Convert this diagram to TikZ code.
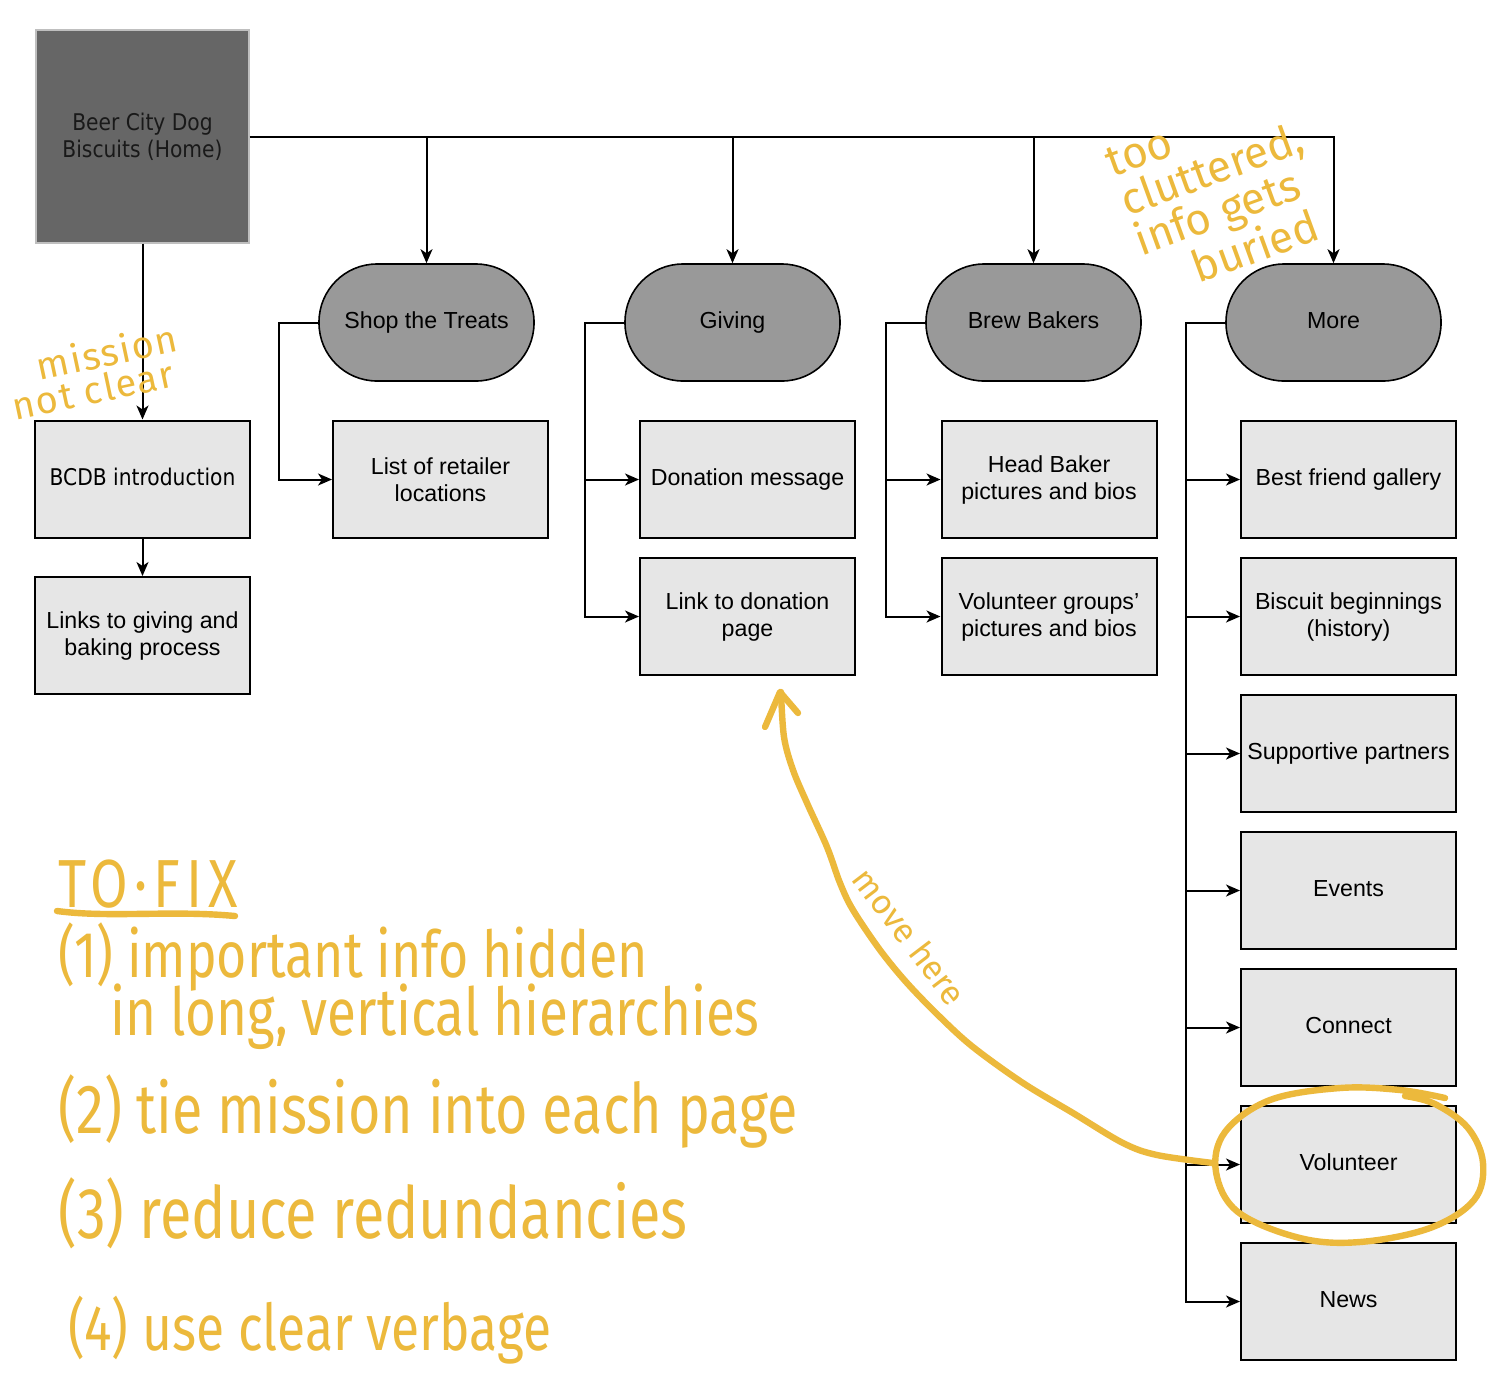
\documentclass[tikz,border=0pt]{standalone}
\usepackage{fontspec}
\setmainfont{Liberation Sans}
\newfontfamily\homefont[FakeStretch=0.88]{DejaVu Sans}
\newfontfamily\hand[FakeStretch=0.8]{Fira Sans}
\newfontfamily\handw{Fira Sans}
\usetikzlibrary{arrows.meta}
\definecolor{hy}{RGB}{236,185,60}
\definecolor{boxfill}{RGB}{230,230,230}
\definecolor{pillfill}{RGB}{153,153,153}
\definecolor{homefill}{RGB}{102,102,102}
\begin{document}
\begin{tikzpicture}[x=0.5pt,y=-0.5pt,
  box/.style={draw=black, line width=1pt, fill=boxfill, minimum width=107.5pt, minimum height=58.5pt, inner sep=0pt, align=center, font=\fontsize{11.6}{13.5}\selectfont},
  oneline/.style={text height=8.6pt, text depth=2.6pt},
  pill/.style={draw=black, line width=0.8pt, fill=pillfill, rounded corners=29pt, minimum width=107.5pt, minimum height=58.5pt, inner sep=0pt, font=\fontsize{11.6}{13.5}\selectfont, oneline},
  conn/.style={line width=1pt, -{Stealth[length=7pt,width=6pt,inset=2pt]}},
  note/.style={text=hy, inner sep=0pt},
  pen/.style={draw=hy, line width=3.2pt, line cap=round, line join=round}]
\fill[white] (0,0) rectangle (1493,1399);
\useasboundingbox (0,0) rectangle (1493,1399);

% nodes
\node[draw=gray!50, line width=0.6pt, fill=homefill, minimum width=106.5pt, minimum height=106.5pt, inner sep=0pt, align=center, text=black!90, font=\homefont\fontsize{11.5}{13.5}\selectfont] (home) at (142.5,136.5) {Beer City Dog\\Biscuits (Home)};
\node[box, oneline, font=\homefont\fontsize{11.5}{13.5}\selectfont] (intro) at (142.5,479) {BCDB introduction};
\node[box] (links) at (142.5,635.5) {Links to giving and\\baking process};

\node[pill] (shop) at (426.5,322.5) {Shop the Treats};
\node[box] (retail) at (440.5,479.5) {List of retailer\\locations};

\node[pill] (giving) at (732.5,322.5) {Giving};
\node[box, oneline] (donmsg) at (747.5,479.5) {Donation message};
\node[box] (donlink) at (747.5,616.5) {Link to donation\\page};

\node[pill] (brew) at (1033.5,322.5) {Brew Bakers};
\node[box] (head) at (1049,479.5) {Head Baker\\pictures and bios};
\node[box] (volg) at (1049,616.5) {Volunteer groups'\\pictures and bios};

\node[pill] (more) at (1333.5,322.5) {More};
\node[box, oneline] (best) at (1348.5,479.5) {Best friend gallery};
\node[box] (bisc) at (1348.5,616.5) {Biscuit beginnings\\(history)};
\node[box, oneline] (supp) at (1348.5,753.5) {Supportive partners};
\node[box, oneline] (events) at (1348.5,890.5) {Events};
\node[box, oneline] (connect) at (1348.5,1027.5) {Connect};
\node[box, oneline] (volun) at (1348.5,1164.5) {Volunteer};
\node[box, oneline] (news) at (1348.5,1301.5) {News};

% connectors
\draw[conn] (home.east) -| (more.north);
\draw[conn] (shop.north |- home.east) -- (shop.north);
\draw[conn] (giving.north |- home.east) -- (giving.north);
\draw[conn] (brew.north |- home.east) -- (brew.north);
\draw[conn] (home.south) -- (intro.north);
\draw[conn] (intro.south) -- (links.north);
\draw[conn] (shop.west) -- ++(-39,0) |- (retail.west);
\draw[conn] (giving.west) -- ++(-39,0) |- (donmsg.west);
\draw[conn] (giving.west) -- ++(-39,0) |- (donlink.west);
\draw[conn] (brew.west) -- ++(-39,0) |- (head.west);
\draw[conn] (brew.west) -- ++(-39,0) |- (volg.west);
\foreach \t in {best,bisc,supp,events,connect,volun,news}
  \draw[conn] (more.west) -- ++(-39,0) |- (\t.west);

% handwritten annotations
\node[note, align=left, font=\handw\fontsize{19}{17}\selectfont\addfontfeature{LetterSpace=4}, rotate=12] (mission) at (94.5,371.6) {\hspace*{16pt}mission\\not clear};

\node[note, align=left, font=\handw\fontsize{22}{21}\selectfont, rotate=20] (clutter) at (1220,192) {too\\cluttered,\\info gets\\\hspace*{22pt}buried};

\node[note, font=\handw\fontsize{17}{17}\selectfont, rotate=-52.7] (mv) at (910,936) {move here};

\node[note, font=\hand\fontsize{34}{34}\selectfont\addfontfeature{LetterSpace=9}, anchor=base west] (tofix) at (58,907) {TO·FIX};
\draw[pen] (57,911) .. controls (110,918) and (170,910) .. (235,916);
\node[note, font=\hand\fontsize{32.4}{33}\selectfont, anchor=base west] (f1) at (58,977) {(1) important info hidden};
\node[note, font=\hand\fontsize{33.1}{34}\selectfont, anchor=base west] (f1b) at (110,1035) {in long, vertical hierarchies};
\node[note, font=\hand\fontsize{34.8}{36}\selectfont, anchor=base west] (f2) at (58,1133) {(2) tie mission into each page};
\node[note, font=\hand\fontsize{36}{36}\selectfont, anchor=base west] (f3) at (58,1238) {(3) reduce redundancies};
\node[note, font=\hand\fontsize{32.2}{33}\selectfont, anchor=base west] (f4) at (68,1350) {(4) use clear verbage};

% curved arrow and circle
\draw[pen] plot[smooth, tension=0.55] coordinates {(1213,1163) (1157,1155) (1123,1143) (1073,1113) (1023,1083) (973,1047) (940,1017) (907,983) (880,950) (853,910) (840,883) (827,847) (807,803) (793,770) (784,737) (781,692)};
\draw[pen] (765,727) -- (780,692) -- (798,713);
\draw[pen] plot[smooth, tension=0.6] coordinates {(1445,1098) (1400,1090) (1340,1088) (1270,1100) (1225,1132) (1216,1172) (1238,1212) (1300,1238) (1360,1242) (1430,1228) (1474,1200) (1483,1163) (1468,1128) (1435,1104) (1405,1096)};
\end{tikzpicture}
\end{document}
